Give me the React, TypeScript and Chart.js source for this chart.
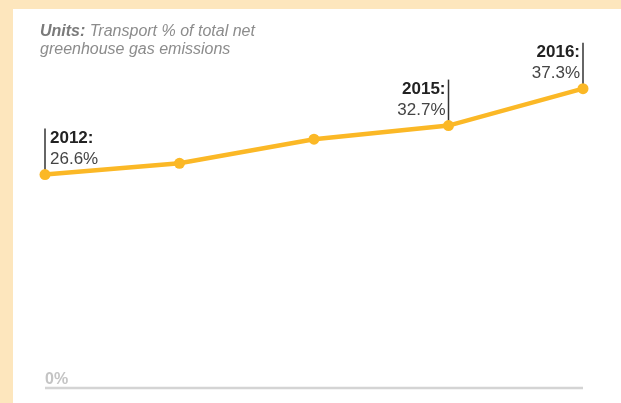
import React, { useEffect, useRef } from "react";
import { Chart, registerables } from "chart.js";

Chart.register(...registerables);

const years = ["2012", "2013", "2014", "2015", "2016"];
const shares = [26.6, 28.0, 31.0, 32.7, 37.3];
const annotatedIdx = [0, 3, 4];
const annotatedSide = ["right", "left", "left"];
const zeroLabel = "0%";
const unitsLabel = "Units:";
const unitsText1 = " Transport % of total net";
const unitsText2 = "greenhouse gas emissions";

const W = 621;
const H = 403;

const overlayPlugin = {
  id: "overlay",
  beforeDatasetsDraw(chart: any) {
    const ctx = chart.ctx;
    const area = chart.chartArea;
    const y = chart.scales.y;
    const zy = y.getPixelForValue(0);
    ctx.save();
    ctx.strokeStyle = "#d4d4d4";
    ctx.lineWidth = 2.5;
    ctx.beginPath();
    ctx.moveTo(area.left, zy);
    ctx.lineTo(area.right, zy);
    ctx.stroke();
    ctx.fillStyle = "#c4c4c4";
    ctx.font = "bold 16px 'Liberation Sans', Arial, sans-serif";
    ctx.textAlign = "left";
    ctx.textBaseline = "alphabetic";
    ctx.fillText(zeroLabel, area.left, zy - 4);

    const meta = chart.getDatasetMeta(0);
    annotatedIdx.forEach((idx, k) => {
      const pt = meta.data[idx];
      const px = pt.x;
      const py = pt.y;
      ctx.strokeStyle = "#333";
      ctx.lineWidth = 1.5;
      ctx.beginPath();
      ctx.moveTo(px, py);
      ctx.lineTo(px, py - 46);
      ctx.stroke();
      const right = annotatedSide[k] === "right";
      ctx.textAlign = right ? "left" : "right";
      const tx = right ? px + 5 : px - 3;
      ctx.fillStyle = "#222";
      ctx.font = "bold 17px 'Liberation Sans', Arial, sans-serif";
      ctx.fillText(years[idx] + ":", tx, py - 32);
      ctx.fillStyle = "#444";
      ctx.font = "17px 'Liberation Sans', Arial, sans-serif";
      ctx.fillText(shares[idx].toFixed(1) + "%", tx, py - 11);
    });
    ctx.restore();
  },
};

export default function App() {
  const ref = useRef<HTMLCanvasElement | null>(null);
  useEffect(() => {
    if (!ref.current) return;
    const chart = new Chart(ref.current, {
      type: "line",
      data: {
        labels: years,
        datasets: [
          {
            data: shares,
            borderColor: "#fbb826",
            backgroundColor: "#fbb826",
            borderWidth: 4.5,
            pointRadius: 5.5,
            pointBorderWidth: 0,
            pointBackgroundColor: "#fbb826",
            tension: 0,
            clip: false as any,
          },
        ],
      },
      options: {
        responsive: false,
        animation: false,
        events: [],
        layout: { padding: { left: 45, right: 38, top: 67, bottom: 15 } },
        plugins: { legend: { display: false }, tooltip: { enabled: false } },
        scales: {
          x: { type: "category", offset: false, display: false },
          y: { min: 0, max: 40, display: false },
        },
      },
      plugins: [overlayPlugin],
    });
    return () => chart.destroy();
  }, []);

  return (
    <div
      style={{
        position: "fixed",
        left: 0,
        top: 0,
        width: W,
        height: H,
        background: "#fde6bd",
        overflow: "hidden",
      }}
    >
      <div
        style={{
          position: "absolute",
          left: 13,
          top: 9,
          width: W - 13,
          height: H - 9,
          background: "#ffffff",
        }}
      />
      <canvas
        ref={ref}
        width={W}
        height={H}
        style={{ position: "absolute", left: 0, top: 0, width: W, height: H }}
      />
      <div
        style={{
          position: "absolute",
          left: 40,
          top: 22,
          fontFamily: "'Liberation Sans', Arial, sans-serif",
          fontSize: 16,
          lineHeight: "18px",
          fontStyle: "italic",
          color: "#8c8c8c",
          whiteSpace: "nowrap",
        }}
      >
        <div>
          <span style={{ fontWeight: "bold", color: "#7a7a7a" }}>{unitsLabel}</span>
          {unitsText1}
        </div>
        <div>{unitsText2}</div>
      </div>
    </div>
  );
}
